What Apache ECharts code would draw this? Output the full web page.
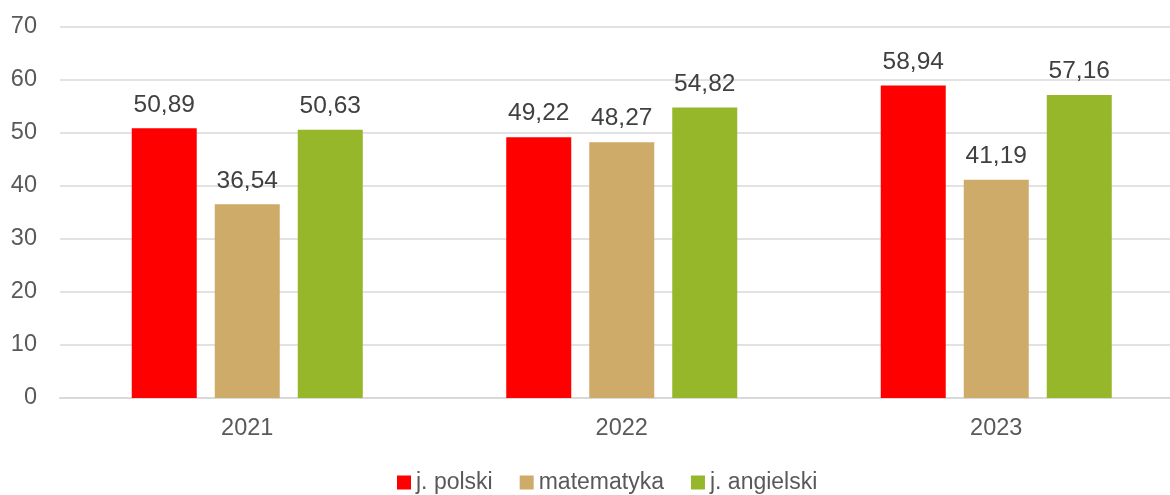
<!DOCTYPE html>
<html><head><meta charset="utf-8">
<script src="https://cdn.jsdelivr.net/npm/echarts@6/dist/echarts.min.js"></script>
<style>html,body{margin:0;padding:0;background:#fff}#c{width:1170px;height:495px}</style>
</head><body><div id="c"></div>
<script>
const categories = ['2021', '2022', '2023'];
const seriesNames = ['j. polski', 'matematyka', 'j. angielski'];
const polski = [50.89, 49.22, 58.94];
const matematyka = [36.54, 48.27, 41.19];
const angielski = [50.63, 54.82, 57.16];
const colors = ['#FF0000', '#CFAB69', '#95B729'];
const FONT = '"Liberation Sans", Arial, sans-serif';

const chart = echarts.init(document.getElementById('c'));
function mk(name, data, color) {
  return {
    name: name, type: 'bar', data: data, barWidth: 65, barGap: '27.7%',
    itemStyle: { color: color },
    label: {
      show: true, position: 'top', distance: 11,
      fontFamily: FONT, fontSize: 24.5, color: '#404040',
      formatter: p => p.value.toFixed(2).replace('.', ',')
    }
  };
}
chart.setOption({
  animation: false,
  backgroundColor: '#fff',
  color: colors,
  grid: { left: 60, top: 27, right: -13.5, bottom: 97, containLabel: false, outerBoundsMode: 'none' },
  legend: {
    top: 471, left: 397, padding: 0, itemWidth: 14, itemHeight: 14, itemGap: 27,
    icon: 'rect',
    textStyle: { fontFamily: FONT, fontSize: 23, color: '#595959' },
    data: seriesNames
  },
  xAxis: {
    type: 'category', data: categories,
    axisLine: { lineStyle: { color: '#d9d9d9', width: 2 } },
    axisTick: { show: false },
    axisLabel: { fontFamily: FONT, fontSize: 23.5, color: '#595959', margin: 19 }
  },
  yAxis: {
    type: 'value', min: 0, max: 70, interval: 10,
    axisLine: { show: false }, axisTick: { show: false },
    splitLine: { lineStyle: { color: '#d9d9d9', width: 1.5 } },
    axisLabel: { fontFamily: FONT, fontSize: 23.5, color: '#595959', margin: 23 }
  },
  series: [mk(seriesNames[0], polski, colors[0]), mk(seriesNames[1], matematyka, colors[1]), mk(seriesNames[2], angielski, colors[2])]
});
</script></body></html>
